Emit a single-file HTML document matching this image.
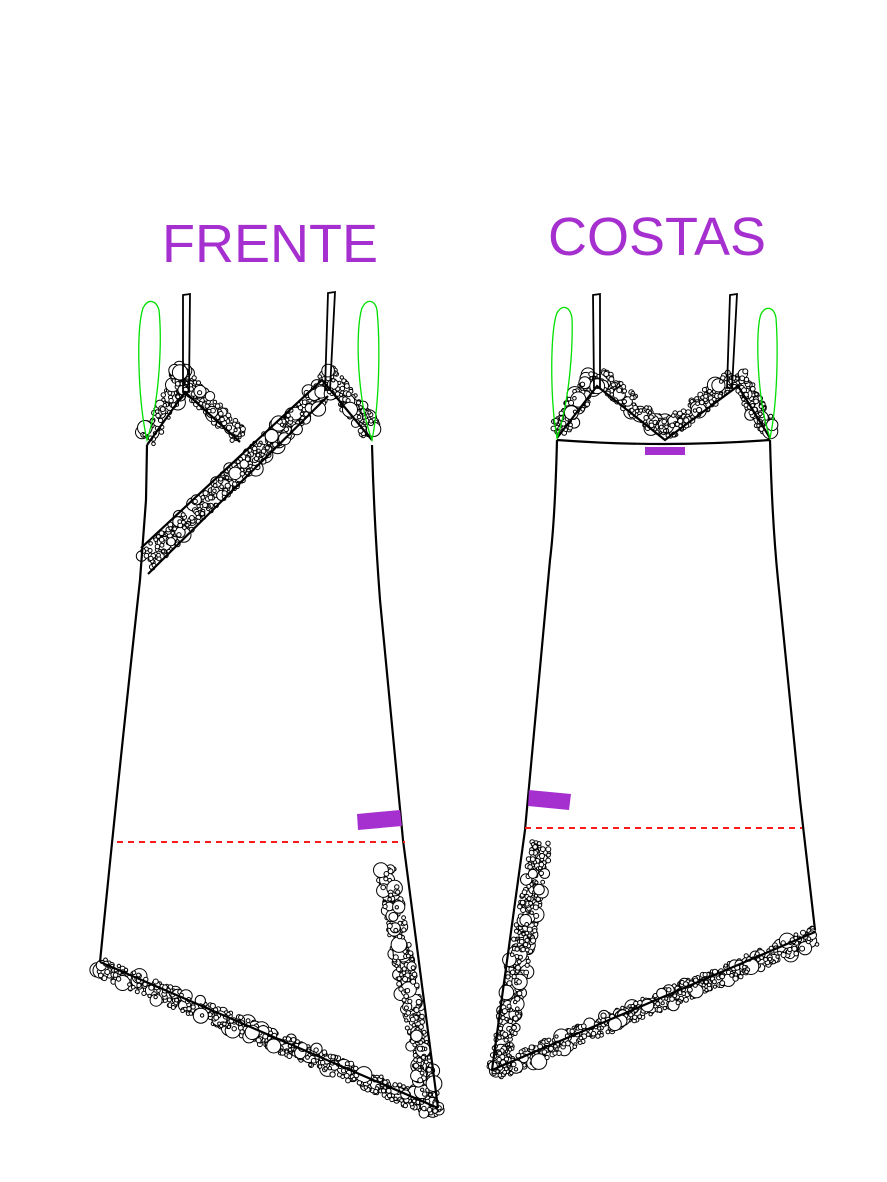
<!DOCTYPE html>
<html><head><meta charset="utf-8"><style>
html,body{margin:0;padding:0;background:#fff;}
svg{display:block;}
text{font-family:"Liberation Sans",Arial,sans-serif;fill:#a62fcf;}
</style></head><body>
<svg id="s" width="887" height="1182" viewBox="0 0 887 1182" xmlns="http://www.w3.org/2000/svg">
<text x="270" y="262" font-size="54" text-anchor="middle">FRENTE</text>
<text x="657" y="255" font-size="54" text-anchor="middle">COSTAS</text>
<g id="lace" fill="#fff" stroke="#000" stroke-width="1"></g>
<g fill="none" stroke="#000" stroke-width="2.2">
<path d="M183,295 L190,294 L189,392 L183,392 Z" stroke-width="1.8"/>
<path d="M328,293 L335,292 L330,390 L325,390 Z" stroke-width="1.8"/>
<path d="M147,445 L146,500 L140,580 Q118,780 100,962"/>
<path d="M372,445 Q374,520 380,600 L403,840 L438,1108"/>
<path d="M100,962 L438,1108"/>
<path d="M147,445 L185,392 L240,442"/>
<path d="M141,548 L322,380 L372,440"/>
<path d="M148,574 L328,396"/>
<path d="M593,295 L600,294 L600,388 L594,388 Z" stroke-width="1.8"/>
<path d="M730,295 L737,294 L732,388 L727,388 Z" stroke-width="1.8"/>
<path d="M557,440 Q555,520 550,560 L525,830 L492,1070"/>
<path d="M770,440 Q772,520 778,580 L800,800 L815,930"/>
<path d="M492,1070 L815,932"/>
<path d="M557,440 Q664,448 770,440"/>
<path d="M557,438 L597,386 L665,440 L738,386 L770,438"/>
</g>
<g fill="none" stroke="#00e000" stroke-width="1.3">
<path d="M147,440 C138,400 136,330 143,308 C148,298 156,300 159,310 C162,340 160,400 147,440 Z"/>
<path d="M372,440 C357,400 355,330 362,308 C367,298 375,300 377,310 C380,340 380,400 372,440 Z"/>
<path d="M557,438 C550,400 550,330 557,313 C562,304 570,306 572,318 C573,345 570,400 557,438 Z"/>
<path d="M770,438 C757,400 755,330 761,314 C766,305 774,307 776,318 C778,345 778,400 770,438 Z"/>
</g>
<g stroke="#ff1a1a" stroke-width="2" stroke-dasharray="6,5">
<line x1="117" y1="842" x2="405" y2="842"/>
<line x1="525" y1="828" x2="802" y2="828"/>
</g>
<g fill="#a62fcf">
<polygon points="357,814 400,810 402,826 358,830"/>
<rect x="645" y="447" width="40" height="8"/>
<polygon points="529,790 571,794 569,810 528,806"/>
</g>
</svg>
<script>
(function(){
var seed=7;function r(){seed=(seed*16807)%2147483647;return (seed-1)/2147483646;}
var g=document.getElementById('lace');
function band(x1,y1,x2,y2,w,off){
 var dx=x2-x1,dy=y2-y1,L=Math.sqrt(dx*dx+dy*dy),nx=-dy/L,ny=dx/L;
 var n=Math.floor(L*1.7);
 for(var i=0;i<n;i++){
  var t=r(),o=(r()-0.5)*w+off;
  var big=r()<0.1;var rad=big?4+r()*4:1.6+r()*1;
  var c=document.createElementNS('http://www.w3.org/2000/svg','circle');
  c.setAttribute('cx',(x1+dx*t+nx*o).toFixed(1));
  c.setAttribute('cy',(y1+dy*t+ny*o).toFixed(1));
  c.setAttribute('r',rad.toFixed(1));
  g.appendChild(c);
 }
}
band(147,440,185,375,18,0);
band(175,370,240,438,18,0);
band(145,562,328,386,20,0);
band(325,372,372,432,20,0);
band(98,966,438,1110,18,0);
band(392,868,438,1112,18,6);
band(557,432,597,375,18,0);
band(597,375,665,432,18,0);
band(665,432,738,375,18,0);
band(738,375,770,432,18,0);
band(492,1072,816,936,18,0);
band(538,840,494,1072,20,-4);
})();
</script>
</body></html>
